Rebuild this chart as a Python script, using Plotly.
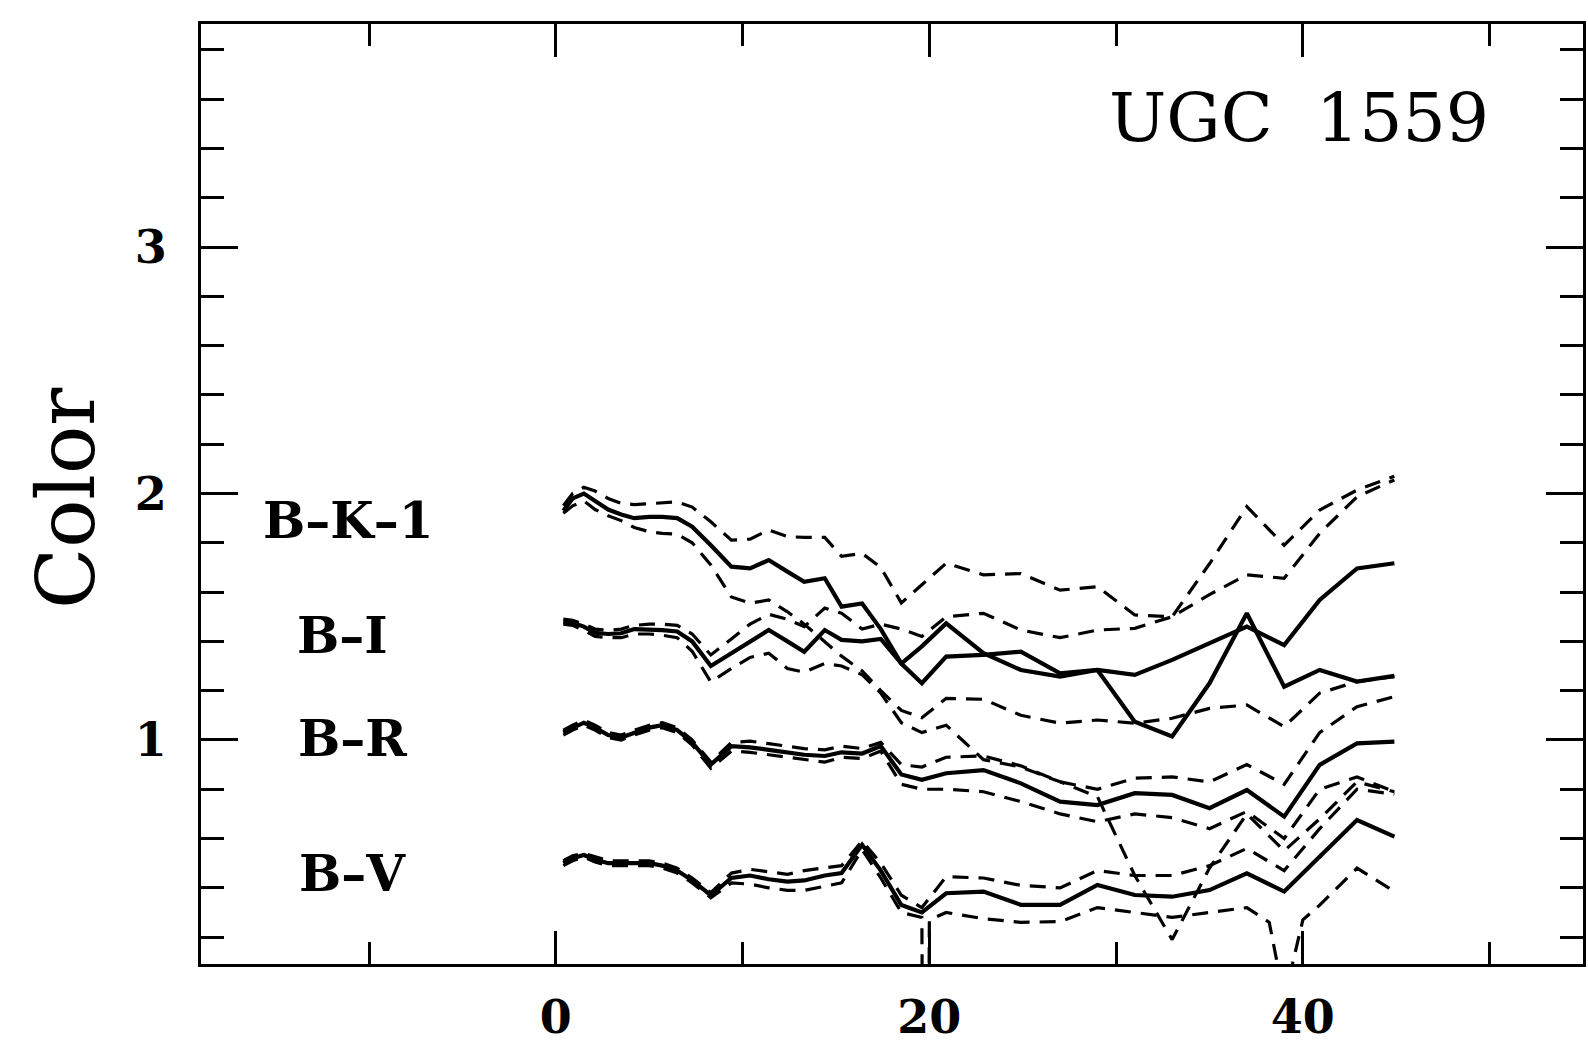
import plotly.graph_objects as go

# Radius grid shared by most profiles
R = [0.4, 0.9, 1.5, 2.1, 2.8, 3.5, 4.2, 5.0, 5.7, 6.5,
     7.3, 8.3, 9.4, 10.4, 11.4, 12.4, 13.3, 14.4, 15.3, 16.4,
     17.4, 18.5, 19.6, 20.9, 22.9, 24.9, 27.0, 29.0, 31.0, 33.0,
     35.0, 37.0, 39.0, 40.9, 42.9, 44.9]

# B-K-1 profile with its upper / lower envelopes
BK_MID = [1.93, 1.98, 2.00, 1.97, 1.935, 1.915, 1.90, 1.905, 1.905, 1.90,
          1.865, 1.79, 1.703, 1.696, 1.73, 1.683, 1.642, 1.656, 1.541, 1.554,
          1.45, 1.31, 1.23, 1.338, 1.345, 1.358, 1.27, 1.284, 1.264, 1.325,
          1.392, 1.46, 1.385, 1.568, 1.696, 1.717]
BK_HI = [1.95, 2.00, 2.025, 2.01, 1.98, 1.96, 1.955, 1.958, 1.962, 1.966,
         1.945, 1.885, 1.811, 1.815, 1.852, 1.825, 1.822, 1.822, 1.745, 1.757,
         1.70, 1.556, 1.63, 1.717, 1.67, 1.675, 1.608, 1.622, 1.507, 1.50,
         1.715, 1.947, 1.79, 1.933, 2.014, 2.07]
BK_LO = [1.92, 1.95, 1.97, 1.935, 1.91, 1.89, 1.862, 1.845, 1.838, 1.835,
         1.80, 1.71, 1.58, 1.555, 1.568, 1.52, 1.47, 1.40, 1.34, 1.28,
         1.20, 1.12, 1.09, 1.169, 1.165, 1.10, 1.068, 1.081, 1.068, 1.088,
         1.128, 1.142, 1.054, 1.19, 1.237, 1.257]

# B-I profile
BI_MID = [1.48, 1.475, 1.46, 1.435, 1.43, 1.433, 1.45, 1.45, 1.446, 1.44,
          1.40, 1.30, 1.352, 1.40, 1.446, 1.40, 1.358, 1.446, 1.406, 1.40,
          1.41, 1.31, 1.38, 1.473, 1.352, 1.284, 1.257, 1.284, 1.074, 1.014,
          1.23, 1.514, 1.216, 1.284, 1.237, 1.26]
BI_HI = [1.49, 1.485, 1.47, 1.45, 1.445, 1.45, 1.465, 1.47, 1.47, 1.465,
         1.43, 1.345, 1.41, 1.47, 1.51, 1.49, 1.46, 1.535, 1.514, 1.45,
         1.47, 1.45, 1.42, 1.50, 1.514, 1.446, 1.415, 1.446, 1.453, 1.50,
         1.59, 1.67, 1.656, 1.838, 1.987, 2.055]
BI_LO = [1.47, 1.465, 1.445, 1.42, 1.415, 1.415, 1.43, 1.43, 1.425, 1.415,
         1.36, 1.235, 1.29, 1.335, 1.352, 1.29, 1.275, 1.31, 1.30, 1.265,
         1.19, 1.07, 1.03, 1.06, 0.92, 0.89, 0.83, 0.77, 0.45, 0.19,
         0.48, 0.70, 0.55, 0.68, 0.83, 0.79]

# B-R profile
BR_MID = [1.03, 1.05, 1.07, 1.05, 1.02, 1.01, 1.03, 1.05, 1.06, 1.04,
          0.99, 0.90, 0.975, 0.97, 0.96, 0.95, 0.94, 0.935, 0.95, 0.945,
          0.975, 0.86, 0.838, 0.865, 0.878, 0.824, 0.75, 0.736, 0.784, 0.777,
          0.723, 0.797, 0.689, 0.899, 0.986, 0.993]
BR_HI = [1.04, 1.06, 1.08, 1.06, 1.03, 1.02, 1.04, 1.06, 1.07, 1.05,
         1.0, 0.91, 0.99, 0.995, 0.985, 0.975, 0.965, 0.96, 0.975, 0.965,
         0.99, 0.90, 0.89, 0.93, 0.935, 0.895, 0.83, 0.80, 0.845, 0.85,
         0.83, 0.90, 0.82, 1.03, 1.135, 1.176]
BR_LO = [1.02, 1.04, 1.06, 1.04, 1.01, 1.0, 1.02, 1.04, 1.05, 1.03,
         0.98, 0.885, 0.955, 0.95, 0.94, 0.93, 0.92, 0.91, 0.93, 0.925,
         0.955, 0.82, 0.80, 0.80, 0.79, 0.75, 0.70, 0.668, 0.70, 0.685,
         0.64, 0.71, 0.60, 0.80, 0.85, 0.79]

# B-V profile
BV_MID = [0.50, 0.52, 0.533, 0.515, 0.50, 0.50, 0.50, 0.50, 0.49, 0.47,
          0.43, 0.37, 0.44, 0.45, 0.435, 0.425, 0.43, 0.45, 0.46, 0.575,
          0.47, 0.33, 0.30, 0.378, 0.385, 0.331, 0.331, 0.412, 0.371, 0.364,
          0.391, 0.459, 0.385, 0.527, 0.675, 0.608]
BV_HI = [0.51, 0.53, 0.54, 0.525, 0.51, 0.51, 0.51, 0.51, 0.50, 0.48,
         0.44, 0.38, 0.46, 0.475, 0.465, 0.455, 0.47, 0.48, 0.49, 0.59,
         0.50, 0.37, 0.32, 0.445, 0.44, 0.41, 0.40, 0.47, 0.45, 0.45,
         0.49, 0.56, 0.47, 0.64, 0.80, 0.78]
# lower B-V envelope is sampled more finely where it drops out of range
R_BV_LO = [0.4, 0.9, 1.5, 2.1, 2.8, 3.5, 4.2, 5.0, 5.7, 6.5,
           7.3, 8.3, 9.4, 10.4, 11.4, 12.4, 13.3, 14.4, 15.3, 16.4,
           17.4, 18.5, 19.6, 19.8, 20.0, 20.9, 22.9, 24.9, 27.0, 29.0,
           31.0, 33.0, 35.0, 37.0, 38.2, 39.0, 40.0, 40.9, 42.9, 44.9]
BV_LO = [0.49, 0.51, 0.525, 0.505, 0.49, 0.49, 0.49, 0.49, 0.48, 0.46,
         0.42, 0.36, 0.42, 0.415, 0.40, 0.39, 0.39, 0.405, 0.42, 0.555,
         0.44, 0.30, 0.28, -3.0, 0.27, 0.30, 0.275, 0.26, 0.263, 0.32,
         0.30, 0.28, 0.30, 0.32, 0.26, -0.05, 0.27, 0.33, 0.48, 0.385]

LABELS = ["B\u2013K\u20131", "B\u2013I", "B\u2013R", "B\u2013V"]
LABEL_X = [-11.1, -11.4, -10.9, -10.9]
LABEL_Y = [1.892, 1.422, 1.004, 0.46]
TITLE = "UGC  1559"

FONT = "DejaVu Serif"
W, H = 1588, 1049
ML, MR, MT, MB = 201, 5, 24, 85

fig = go.Figure()

def add_line(x, y, dashed):
    fig.add_trace(go.Scatter(
        x=x, y=y, mode="lines", showlegend=False, hoverinfo="skip",
        line=dict(color="black", width=3.2 if dashed else 4.2,
                  dash="16px,10px" if dashed else "solid"),
    ))

for mid, hi, lo in [(BK_MID, BK_HI, BK_LO), (BI_MID, BI_HI, BI_LO),
                    (BR_MID, BR_HI, BR_LO)]:
    add_line(R, hi, True)
    add_line(R, lo, True)
    add_line(R, mid, False)
add_line(R, BV_HI, True)
add_line(R_BV_LO, BV_LO, True)
add_line(R, BV_MID, False)

for txt, lx, ly in zip(LABELS, LABEL_X, LABEL_Y):
    fig.add_annotation(x=lx, y=ly, text=txt, showarrow=False,
                       xanchor="center", yanchor="middle",
                       font=dict(family=FONT, size=50, color="black",
                                 weight="bold"))

fig.add_annotation(x=39.8, y=3.525, text=TITLE, showarrow=False,
                   xanchor="center", yanchor="middle",
                   font=dict(family=FONT, size=68, color="black"))

pw = W - ML - MR
ph = H - MT - MB
fig.add_annotation(xref="paper", yref="paper",
                   x=(66 - ML) / pw, y=(H - MB - 498) / ph,
                   text="Color", textangle=-90, showarrow=False,
                   xanchor="center", yanchor="middle",
                   font=dict(family=FONT, size=80, color="black"))

axis_common = dict(
    showline=True, linewidth=3, linecolor="black", mirror="allticks",
    ticks="inside", tickwidth=3, tickcolor="black",
    showgrid=False, zeroline=False, automargin=False,
    tickfont=dict(family=FONT, size=46, color="black", weight="bold"),
)

fig.update_xaxes(range=[-19, 55], tick0=0, dtick=20, ticklen=33,
                 ticklabelstandoff=11,
                 minor=dict(ticks="inside", tick0=0, dtick=10, ticklen=22,
                            tickwidth=3, tickcolor="black", showgrid=False),
                 **axis_common)
fig.update_yaxes(range=[0.091, 3.905], tick0=0, dtick=1, ticklen=37,
                 ticklabelstandoff=22,
                 minor=dict(ticks="inside", tick0=0, dtick=0.2, ticklen=23,
                            tickwidth=3, tickcolor="black", showgrid=False),
                 **axis_common)

fig.update_layout(width=W, height=H, autosize=False,
                  margin=dict(l=ML, r=MR, t=MT, b=MB, pad=0),
                  paper_bgcolor="white", plot_bgcolor="white")

fig.write_html("out.html")
